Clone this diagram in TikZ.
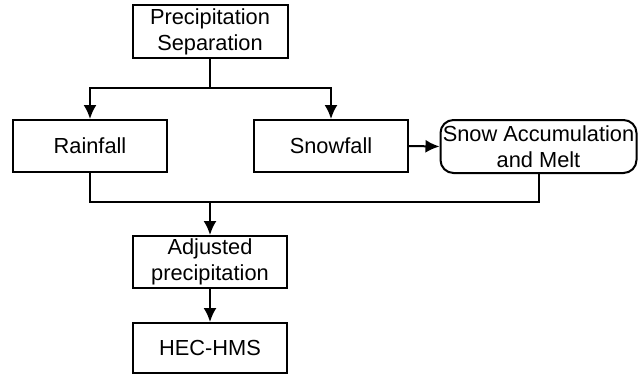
\documentclass[tikz,border=0pt]{standalone}
\usepackage{fontspec}
\setmainfont{Liberation Sans}
\usetikzlibrary{arrows.meta}
\begin{document}
\begin{tikzpicture}[x=1pt,y=-1pt,
  box/.style={draw,line width=2pt,minimum width=154pt,minimum height=52pt,inner sep=1pt,align=center,font=\fontsize{21.8}{26}\selectfont},
  conn/.style={line width=2pt},
  arr/.style={conn,-{Latex[length=14pt,width=13pt]}}]
\useasboundingbox (0,0) rectangle (638,376);
\node[box,minimum width=155pt,minimum height=53pt] (prec) at (210,31.5) {Precipitation\\Separation};
\node[box] (rain) at (90,146) {Rainfall};
\node[box] (snow) at (331,146) {Snowfall};
\node[box,rounded corners=13pt,minimum width=196pt,minimum height=53pt] (acc) at (538.5,146.5) {Snow Accumulation\\and Melt};
\node[box] (adj) at (210,262) {Adjusted\\precipitation};
\node[box,minimum height=50pt] (hec) at (210,348) {HEC-HMS};
\coordinate (j1) at (210,88);
\coordinate (j2) at (210,202);
\draw[conn] (prec.south) -- (j1);
\draw[arr] (j1) -| (rain.north);
\draw[arr] (j1) -| (snow.north);
\draw[arr] (snow.east) -- (acc.west);
\draw[conn] (rain.south) |- (j2);
\draw[conn] (acc.south) |- (j2);
\draw[arr] (j2) -- (adj.north);
\draw[arr] (adj.south) -- (hec.north);
\end{tikzpicture}
\end{document}
